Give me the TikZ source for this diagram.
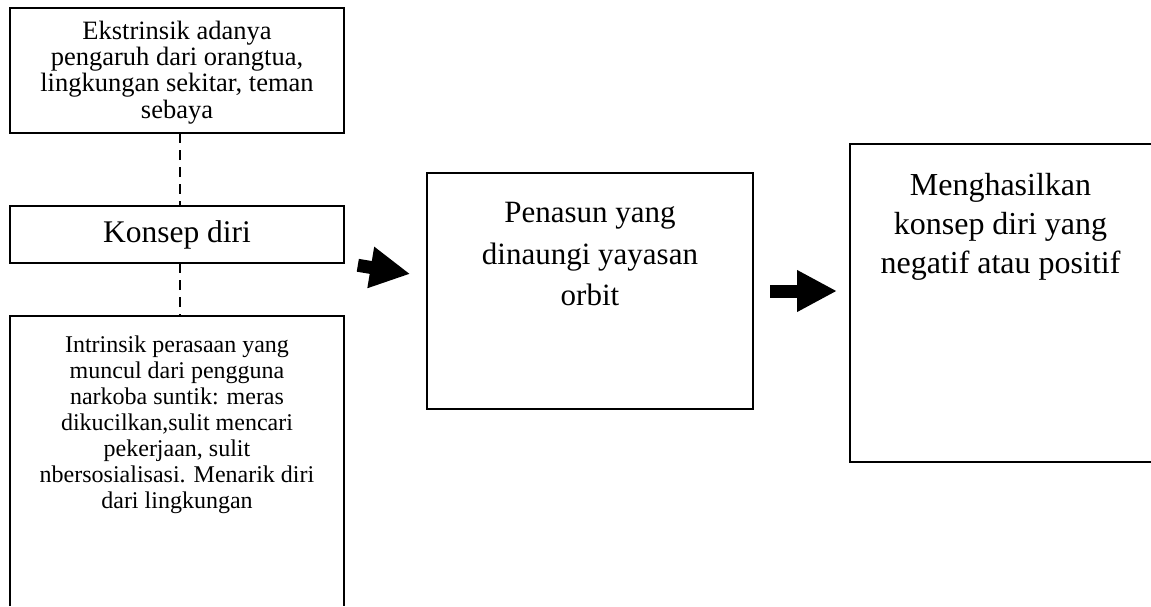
\documentclass[tikz,border=0pt]{standalone}
\usepackage{fontspec}
\setmainfont{Liberation Serif}
\usetikzlibrary{arrows.meta, calc}

% isi kotak: lebar, tinggi, jarak atas, ukuran huruf, spasi, teks
\newcommand{\isikotak}[6]{\parbox[c][#2pt][t]{#1pt}{\fontsize{#4}{#5}\selectfont\centering\vspace*{#3pt}#6\par}}

\begin{document}
\begin{tikzpicture}[x=1pt, y=-1pt,
    kotak/.style={draw, line width=1.2pt, inner sep=0pt, outer sep=0pt},
    kotakbuka/.style={inner sep=0pt, outer sep=0pt},
    sisi/.style={line width=1.2pt},
    putus/.style={line width=2pt, dash pattern=on 10pt off 7pt},
    panah/.style={line width=13pt, -{Triangle[length=40pt, width=39pt]}}]
\useasboundingbox (0,0) rectangle (1151,606);

% Kotak kiri
\node[kotak] (ekstrinsik) at (177,70.5) {\isikotak{334}{125}{13}{26.5}{26.3}{Ekstrinsik adanya\\ pengaruh dari orangtua,\\ lingkungan sekitar, teman\\ sebaya}};
\node[kotak] (konsep) at (177,234.5) {\parbox[c][57pt][c]{334pt}{\centering\fontsize{31.5}{36}\selectfont Konsep diri\par}};
\node[kotakbuka] (intrinsik) at (177,461) {\isikotak{334}{290}{20}{24}{26}{Intrinsik perasaan yang\\ muncul dari pengguna\\ narkoba suntik: meras\\ dikucilkan,sulit mencari\\ pekerjaan, sulit\\ nbersosialisasi. Menarik diri\\ dari lingkungan}};
\draw[sisi] (intrinsik.south west) -- (intrinsik.north west) -- (intrinsik.north east) -- (intrinsik.south east);

% Kotak tengah
\node[kotak] (penasun) at (590,291) {\isikotak{326}{236}{29}{31}{41.7}{Penasun yang\\ dinaungi yayasan\\ orbit}};

% Kotak kanan
\node[kotakbuka] (hasil) at (1000.5,303) {\isikotak{301}{318}{29}{32}{39}{Menghasilkan\\ konsep diri yang\\ negatif atau positif}};
\draw[sisi] (hasil.north east) -- (hasil.north west) -- (hasil.south west) -- (hasil.south east);

% Garis putus-putus
\draw[putus] ([xshift=3pt]ekstrinsik.south) -- ([xshift=3pt]konsep.north);
\draw[putus] ([xshift=3pt]konsep.south) -- ([xshift=3pt]intrinsik.north);

% Panah
\draw[panah, shorten <=14pt, shorten >=17pt] (konsep.south east) -- (penasun.175);
\draw[panah, shorten <=17pt, shorten >=13pt] (penasun.east) -- (penasun.east -| hasil.west);
\end{tikzpicture}
\end{document}
